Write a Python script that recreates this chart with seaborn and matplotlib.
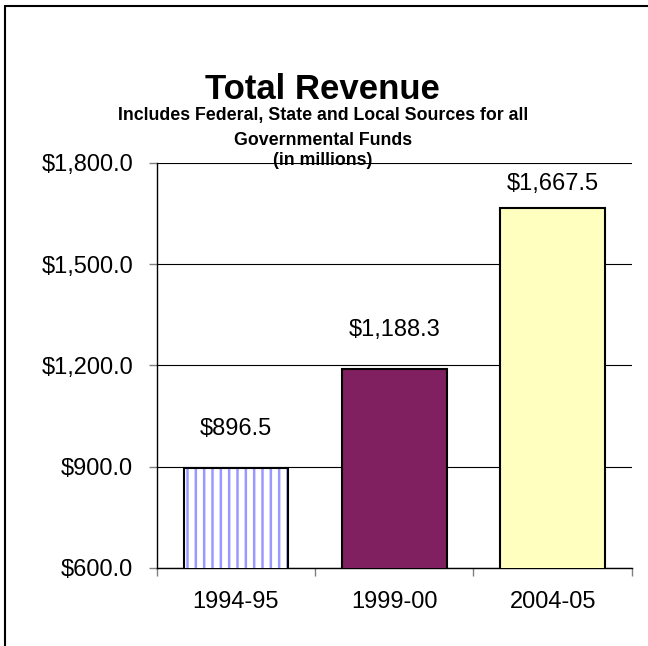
import matplotlib
matplotlib.use("Agg")
import matplotlib.pyplot as plt
import seaborn as sns
import pandas as pd
from matplotlib.patches import Rectangle
from matplotlib.ticker import FuncFormatter, FixedLocator

years = ["1994-95", "1999-00", "2004-05"]
revenue = [896.5, 1188.3, 1667.5]
bar_colors = ["#FFFFFF", "#802060", "#FFFFC0"]
y_ticks = [600, 900, 1200, 1500, 1800]

df = pd.DataFrame({"year": years, "revenue": revenue})

sns.set_style("white")
plt.rcParams["font.family"] = ["Liberation Sans", "DejaVu Sans"]
plt.rcParams["hatch.linewidth"] = 1.8
plt.rcParams["text.color"] = "black"
plt.rcParams["xtick.labelcolor"] = "black"
plt.rcParams["ytick.labelcolor"] = "black"

fig = plt.figure(figsize=(6.48, 6.46), dpi=100)
ax = fig.add_axes([0.242, 0.121, 0.733, 0.627])

sns.barplot(data=df, x="year", y="revenue", hue="year", palette=bar_colors,
            saturation=1, legend=False, width=0.66, edgecolor="black",
            linewidth=1.5, ax=ax, zorder=3)

# first bar: white with blue vertical stripes, black outline drawn on top
p = ax.patches[0]
p.set_hatch("||")
p.set_edgecolor("#9999FF")
p.set_linewidth(0)
ax.add_patch(Rectangle(p.get_xy(), p.get_width(), p.get_height(),
                       fill=False, edgecolor="black", linewidth=1.5, zorder=4))

ax.set_ylim(600, 1800)
ax.set_xlim(-0.5, 2.5)
ax.yaxis.set_major_locator(FixedLocator(y_ticks))
ax.yaxis.set_major_formatter(FuncFormatter(lambda v, _: f"${v:,.1f}"))
ax.grid(axis="y", color="black", linewidth=0.8, zorder=0)
ax.set_xlabel("")
ax.set_ylabel("")

for s in ["top", "right"]:
    ax.spines[s].set_visible(False)
for s in ["left", "bottom"]:
    ax.spines[s].set_color("black")
    ax.spines[s].set_linewidth(1.0)

ax.tick_params(axis="y", which="major", left=True, length=6, width=1,
               color="#808080", labelsize=17, pad=11)
ax.tick_params(axis="x", which="major", bottom=False, labelsize=17, pad=13)
ax.xaxis.set_minor_locator(FixedLocator([-0.5, 0.5, 1.5, 2.5]))
ax.tick_params(axis="x", which="minor", bottom=True, length=6, width=1,
               color="#808080")

offsets = [20, 20, 9]
for i, v in enumerate(revenue):
    ax.annotate(f"${v:,.1f}", (i, v), xytext=(0, offsets[i]),
                textcoords="offset points", ha="center", va="bottom",
                fontsize=17)

fig.text(0.498, 0.862, "Total Revenue", ha="center", va="center",
         fontsize=25, fontweight="bold")
fig.text(0.498, 0.821, "Includes Federal, State and Local Sources for all",
         ha="center", va="center", fontsize=12.8, fontweight="bold")
fig.text(0.498, 0.783, "Governmental Funds", ha="center", va="center",
         fontsize=12.8, fontweight="bold")
fig.text(0.498, 0.751, "(in millions)", ha="center", va="center",
         fontsize=12.8, fontweight="bold")

# chart frame, only top and left edges fall inside the picture
fig.add_artist(plt.Line2D([5 / 648, 1.0], [1 - 6 / 646, 1 - 6 / 646],
                          color="black", linewidth=1.5,
                          transform=fig.transFigure))
fig.add_artist(plt.Line2D([5 / 648, 5 / 648], [0.0, 1 - 6 / 646],
                          color="black", linewidth=1.5,
                          transform=fig.transFigure))

fig.savefig("out.png", dpi=100)
